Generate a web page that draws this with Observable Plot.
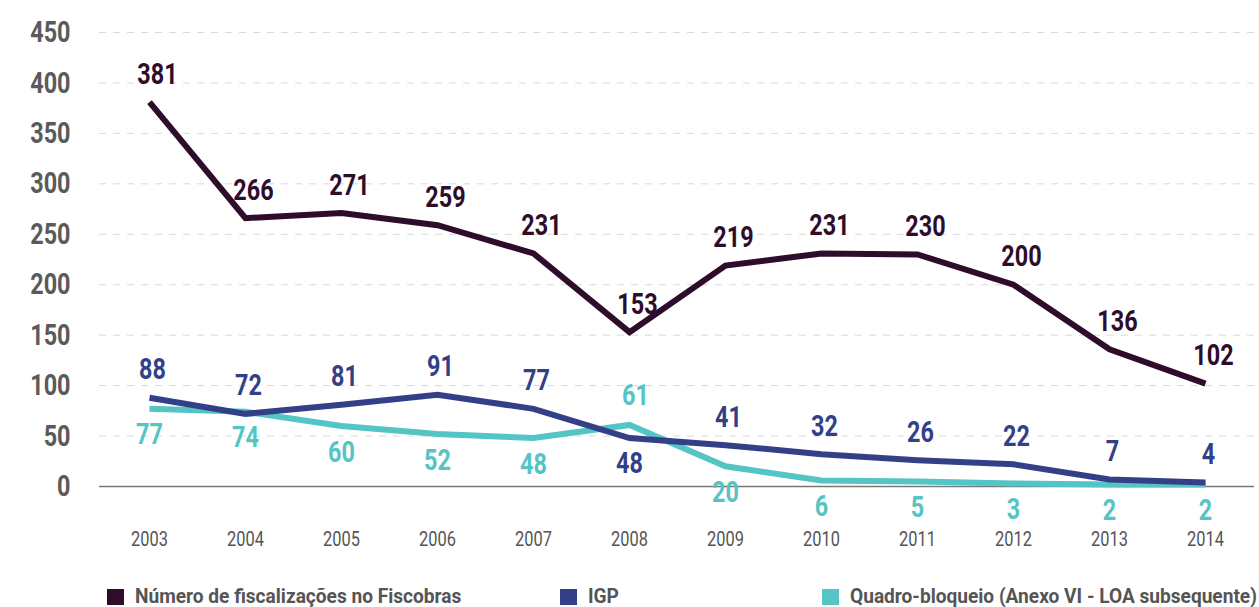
<!DOCTYPE html>
<html>
<head>
<meta charset="utf-8">
<script src="https://cdn.jsdelivr.net/npm/d3@7"></script>
<script src="https://cdn.jsdelivr.net/npm/@observablehq/plot@0.6"></script>
<style>
  body { margin: 0; background: #fff; }
  .legend { position: relative; margin-top: 5px; height: 27px; font-family: Roboto, sans-serif; font-weight: bold; font-size: 21px; color: #555; line-height: 27px; white-space: nowrap; }
  .legend .item { position: absolute; top: 0; display: flex; align-items: center; }
  .legend .sw { width: 17px; height: 16px; margin-right: 11px; display: inline-block; }
  .legend .lbl { display: inline-block; transform: scaleX(0.91); transform-origin: left center; }
</style>
</head>
<body>
<div id="chart"></div>
<script>
const years = [2003, 2004, 2005, 2006, 2007, 2008, 2009, 2010, 2011, 2012, 2013, 2014];
const fiscobras = [381, 266, 271, 259, 231, 153, 219, 231, 230, 200, 136, 102];
const igp = [88, 72, 81, 91, 77, 48, 41, 32, 26, 22, 7, 4];
const quadro = [77, 74, 60, 52, 48, 61, 20, 6, 5, 3, 2, 2];
const seriesNames = ["Número de fiscalizações no Fiscobras", "IGP", "Quadro-bloqueio (Anexo VI - LOA subsequente)"];
const seriesColors = ["#2e0d2b", "#334088", "#55c4c4"];
const yTicks = [0, 50, 100, 150, 200, 250, 300, 350, 400, 450];

const fontFamily = 'Roboto, sans-serif';

const rowsF = years.map((year, i) => ({year, value: fiscobras[i], series: seriesNames[0]}));
const rowsI = years.map((year, i) => ({year, value: igp[i], series: seriesNames[1], other: quadro[i]}));
const rowsQ = years.map((year, i) => ({year, value: quadro[i], series: seriesNames[2], other: igp[i]}));
// the teal series is labelled above only where it clearly tops the IGP line
const clearlyAbove = d => d.value - d.other > 5;

const lineOpts = {x: "year", y: "value", stroke: "series", strokeWidth: 6, strokeLinecap: "butt", strokeLinejoin: "miter", strokeMiterlimit: 3};
const textOpts = {x: "year", y: "value", text: d => String(d.value), fill: "series", fontSize: 30, fontWeight: "bold"};

const chart = Plot.plot({
  width: 1259,
  height: 578,
  marginLeft: 99,
  marginRight: 5,
  marginTop: 32,
  marginBottom: 92,
  style: {fontFamily, background: "#fff", overflow: "visible"},
  x: {type: "point", domain: years, padding: 0.5},
  y: {domain: [0, 450]},
  color: {domain: seriesNames, range: seriesColors},
  marks: [
    Plot.ruleY(yTicks.filter(d => d > 0), {stroke: "#d9d9d9", strokeDasharray: "7,7", strokeWidth: 1}),
    Plot.ruleY([0], {stroke: "#777", strokeWidth: 1.5}),
    Plot.axisY({ticks: yTicks, tickSize: 0, tickPadding: 29, fontSize: 30, fontWeight: "bold", fill: "#5a5a5a", label: null}),
    Plot.axisX({tickSize: 0, tickPadding: 45, fontSize: 21, fill: "#555", label: null, tickFormat: d => String(d)}),
    Plot.line(rowsQ, lineOpts),
    Plot.line(rowsI, lineOpts),
    Plot.line(rowsF, lineOpts),
    Plot.text(rowsF, {...textOpts, dx: 8, dy: -28}),
    Plot.text(rowsI.filter(d => !clearlyAbove({value: d.other, other: d.value})), {...textOpts, dx: 3, dy: -28}),
    Plot.text(rowsI.filter(d => clearlyAbove({value: d.other, other: d.value})), {...textOpts, dy: 25}),
    Plot.text(rowsQ.filter(d => !clearlyAbove(d)), {...textOpts, dy: 26}),
    Plot.text(rowsQ.filter(d => clearlyAbove(d)), {...textOpts, dx: 6, dy: -30})
  ]
});
document.getElementById("chart").appendChild(chart);

// condense every text horizontally (glyphs squeezed, anchor kept)
const condense = 0.78;
chart.querySelectorAll("text").forEach(t => {
  const w = t.getComputedTextLength();
  if (w > 0) {
    t.setAttribute("textLength", (w * condense).toFixed(2));
    t.setAttribute("lengthAdjust", "spacingAndGlyphs");
  }
});

const legend = document.createElement("div");
legend.className = "legend";
const lefts = [107, 560, 822];
seriesNames.forEach((name, i) => {
  const item = document.createElement("div");
  item.className = "item";
  item.style.left = lefts[i] + "px";
  const sw = document.createElement("span");
  sw.className = "sw";
  sw.style.background = seriesColors[i];
  const lbl = document.createElement("span");
  lbl.className = "lbl";
  lbl.textContent = name;
  item.appendChild(sw);
  item.appendChild(lbl);
  legend.appendChild(item);
});
document.body.appendChild(legend);
</script>
</body>
</html>
